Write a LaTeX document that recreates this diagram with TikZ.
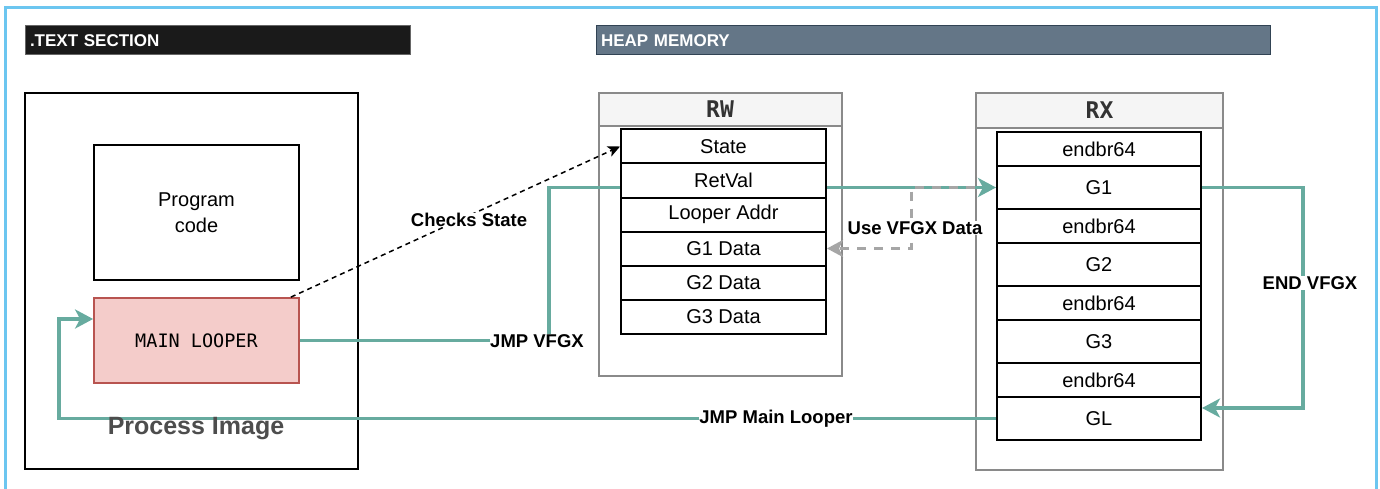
\documentclass[tikz,border=0pt]{standalone}
\usepackage{fontspec}
\setmainfont{Liberation Sans}
\newfontfamily\monof{DejaVu Sans Mono}
\usetikzlibrary{arrows.meta}
\pgfdeclarelayer{back}
\pgfdeclarelayer{mid}
\pgfsetlayers{back,mid,main}
\definecolor{frameblue}{HTML}{6CC6F0}
\definecolor{tealc}{HTML}{67AB9F}
\definecolor{slate}{HTML}{647687}
\definecolor{slatedark}{HTML}{314354}
\definecolor{darkbar}{HTML}{1A1A1A}
\definecolor{redfill}{HTML}{F4CCCA}
\definecolor{redline}{HTML}{B85450}
\definecolor{hdrfill}{HTML}{F5F5F5}
\definecolor{contline}{HTML}{8A8A8A}
\definecolor{dashgray}{HTML}{A6A6A6}
\definecolor{labelgray}{HTML}{4D4D4D}
\tikzset{
  secbar/.style={inner xsep=5pt, inner ysep=0pt, minimum height=29pt, text=white, align=left,
    font=\bfseries\fontsize{17}{20}\selectfont, line width=1pt},
  container/.style={draw=contline, line width=2pt, fill=white, inner sep=0pt},
  hdrbox/.style={draw=contline, line width=2pt, fill=hdrfill, inner sep=0pt,
    font=\monof\bfseries\fontsize{23}{26}\selectfont, text=black!80},
  cellbox/.style={draw=black, line width=2pt, fill=white, inner sep=0pt,
    font=\fontsize{20}{24}\selectfont},
  plainbox/.style={draw=black, line width=2pt, fill=white, inner sep=0pt,
    minimum width=205pt, align=center, font=\fontsize{20}{26}\selectfont},
  elbl/.style={fill=white, inner sep=0.5pt, font=\bfseries\fontsize{18.5}{22}\selectfont},
  tealedge/.style={draw=tealc, line width=3.2pt,
    -{Stealth[length=18pt,width=19pt,inset=5pt]}},
  grayedge/.style={draw=dashgray, line width=3pt, dash pattern=on 9pt off 8pt,
    -{Stealth[length=16pt,width=17pt,inset=4pt]}},
  blackedge/.style={draw=black, line width=1.5pt, dash pattern=on 5pt off 4pt,
    -{Stealth[length=12pt,width=11pt,inset=3pt]}}
}
\begin{document}
\begin{tikzpicture}[x=1pt,y=-1pt]
\useasboundingbox (0,0) rectangle (1380,489);
% outer frame
\draw[frameblue, line width=3pt] (5,492) -- (5,8) -- (1376,8) -- (1376,492);

% section bars
\node[secbar, fill=darkbar, draw=black!60, minimum width=385pt, text width=375pt] (textsec) at (217.5,40.5) {.TEXT SECTION};
\node[secbar, fill=slate, draw=slatedark, minimum width=674pt, text width=664pt] (heapsec) at (933,40.5) {HEAP MEMORY};

% containers
\begin{pgfonlayer}{back}
\node[draw=black, line width=2pt, fill=white, minimum width=333pt, minimum height=376pt] (proc) at (191.5,281) {};
\node[container, minimum width=243pt, minimum height=283pt] (rwc) at (720,234.5) {};
\node[hdrbox, minimum width=243pt, minimum height=33pt] (rwh) at (720,109.5) {RW};
\node[container, minimum width=247pt, minimum height=377pt] (rxc) at (1099.5,281.5) {};
\node[hdrbox, minimum width=247pt, minimum height=35pt] (rxh) at (1099.5,110.5) {RX};
\end{pgfonlayer}

\node[font=\bfseries\fontsize{25}{30}\selectfont, text=labelgray] (plabel) at (196,429) {Process Image};

% process image content
\node[plainbox, minimum height=135pt] (prog) at (196.5,212.5) {Program\\code};
\node[draw=redline, line width=1.8pt, fill=redfill, minimum width=205pt, minimum height=85pt,
  font=\monof\fontsize{18.5}{22}\selectfont] (main) at (196.5,340.5) {MAIN LOOPER};

% RW cells
\foreach \nm/\txt/\yy in {state/State/146.5, retval/RetVal/180.5, looper/Looper Addr/214.5,
  g1d/G1 Data/248.5, g2d/G2 Data/282.5, g3d/G3 Data/316.5}{
  \node[cellbox, minimum width=205pt, minimum height=34pt] (\nm) at (723.5,\yy) {\txt};
}
% RX cells
\foreach \nm/\txt/\yy/\hh in {e1/endbr64/149/34, g1/G1/187.5/43, e2/endbr64/226/34, g2/G2/264.5/43,
  e3/endbr64/303/34, g3/G3/341.5/43, e4/endbr64/380/34, gl/GL/418.5/43}{
  \node[cellbox, minimum width=204pt, minimum height=\hh pt] (\nm) at (1099,\yy) {\txt};
}

% connectors
\begin{pgfonlayer}{mid}
\draw[tealedge] (main.east) -- (549,340.5) node[elbl, xshift=-12pt, yshift=-1pt]{JMP VFGX} |- (g1.west);
\draw[tealedge] (g1.east) -- (1303,187.5) |- ([yshift=10.5pt]gl.east);
\draw[tealedge] (gl.west) -- (59,418.5) |- ([yshift=21.5pt]main.west);
\end{pgfonlayer}
\node[elbl] (lend) at (1310,283) {END VFGX};
\node[elbl] (ljmpml) at (776,418.5) {JMP Main Looper};

\draw[grayedge] (rxc.west |- g1.west) -- (911,187.5) |- (g1d.east);
\node[elbl] (luse) at (915,228) {Use VFGX Data};

\draw[blackedge] ([xshift=-9pt]main.north east) -- (state.west);
\node[elbl] (lchk) at (469,220) {Checks State};
\end{tikzpicture}
\end{document}
